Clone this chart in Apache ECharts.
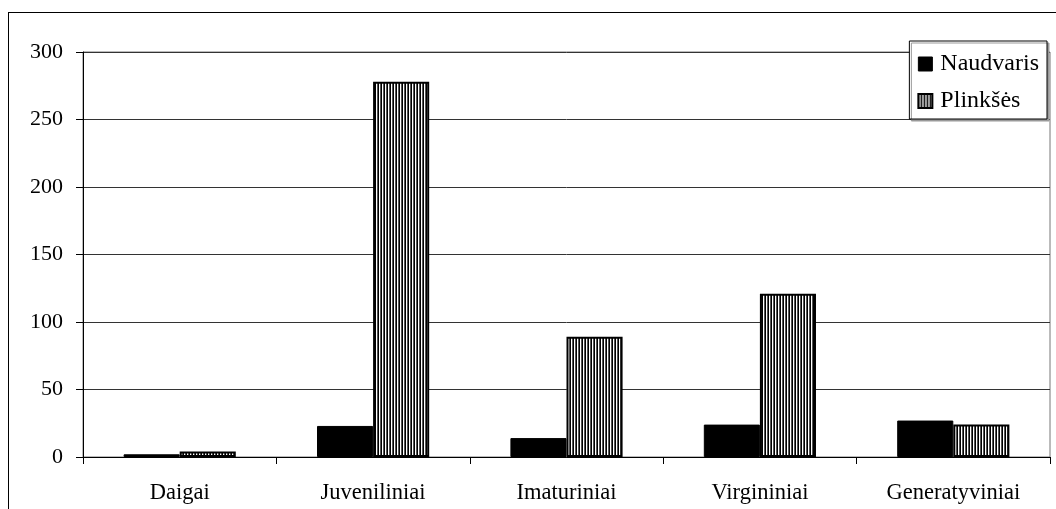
<!DOCTYPE html>
<html>
<head>
<meta charset="utf-8">
<script src="https://cdn.jsdelivr.net/npm/echarts@6/dist/echarts.min.js"></script>
<style>
html,body{margin:0;padding:0;background:#fff;}
#frame{position:absolute;left:8px;top:12px;width:1048px;height:497px;border-left:1px solid #000;border-top:1px solid #000;}
#chart{position:absolute;left:0;top:0;width:1056px;height:509px;}
</style>
</head>
<body>
<div id="frame"></div>
<div id="chart"></div>
<script>
const categories = ['Daigai', 'Juveniliniai', 'Imaturiniai', 'Virgininiai', 'Generatyviniai'];
const naudvaris = [2, 23, 14, 24, 27];
const plinkses = [4, 278, 89, 121, 24];
const yTicks = [0, 50, 100, 150, 200, 250, 300];

const pc = document.createElement('canvas');
pc.width = 3; pc.height = 4;
const ctx = pc.getContext('2d');
ctx.fillStyle = '#fff'; ctx.fillRect(0, 0, 3, 4);
ctx.fillStyle = '#000'; ctx.fillRect(0, 0, 1, 4);
ctx.fillStyle = '#555'; ctx.fillRect(2, 0, 1, 4);
const stripe = { image: pc, repeat: 'repeat' };

const font = 'Liberation Serif';
const chart = echarts.init(document.getElementById('chart'));
chart.setOption({
  animation: false,
  backgroundColor: 'transparent',
  grid: { left: 83, right: 6, top: 52, bottom: 52, containLabel: false,
    show: true, borderColor: '#777', borderWidth: 1 },
  legend: {
    orient: 'vertical', right: 9, top: 41,
    backgroundColor: '#fff', borderColor: '#000', borderWidth: 1,
    shadowColor: '#999', shadowOffsetX: 2, shadowOffsetY: 2, shadowBlur: 0,
    padding: [11, 8, 6, 8], itemGap: 13, itemWidth: 14, itemHeight: 14,
    textStyle: { fontFamily: font, fontSize: 24, color: '#000', padding: [0, 0, 0, 3] },
    data: [
      { name: 'Naudvaris', icon: 'rect', itemStyle: { color: '#000', borderColor: '#000', borderWidth: 1 } },
      { name: 'Plinkšės', icon: 'rect', itemStyle: { color: stripe, borderColor: '#000', borderWidth: 2 } }
    ]
  },
  xAxis: {
    type: 'category', data: categories,
    axisLine: { lineStyle: { color: '#000', width: 1 } },
    axisTick: { show: true, inside: false, length: 7, alignWithLabel: false, lineStyle: { color: '#000' } },
    axisLabel: { fontFamily: font, fontSize: 22.5, color: '#000', margin: 25 }
  },
  yAxis: {
    type: 'value', min: 0, max: 300, interval: 50,
    axisLine: { show: true, lineStyle: { color: '#000', width: 1 } },
    axisTick: { show: true, inside: false, length: 7, lineStyle: { color: '#000' } },
    axisLabel: { fontFamily: font, fontSize: 22, color: '#000', margin: 20,
      formatter: v => yTicks.includes(v) ? String(v) : '' },
    splitLine: { show: true, lineStyle: { color: '#333', width: 1 } }
  },
  series: [
    { name: 'Naudvaris', type: 'bar', data: naudvaris, barGap: '0%', barCategoryGap: '42%',
      itemStyle: { color: '#000', borderColor: '#000', borderWidth: 1 } },
    { name: 'Plinkšės', type: 'bar', data: plinkses, barGap: '0%', barCategoryGap: '42%',
      itemStyle: { color: stripe, borderColor: '#000', borderWidth: 2 } }
  ]
});
</script>
</body>
</html>
